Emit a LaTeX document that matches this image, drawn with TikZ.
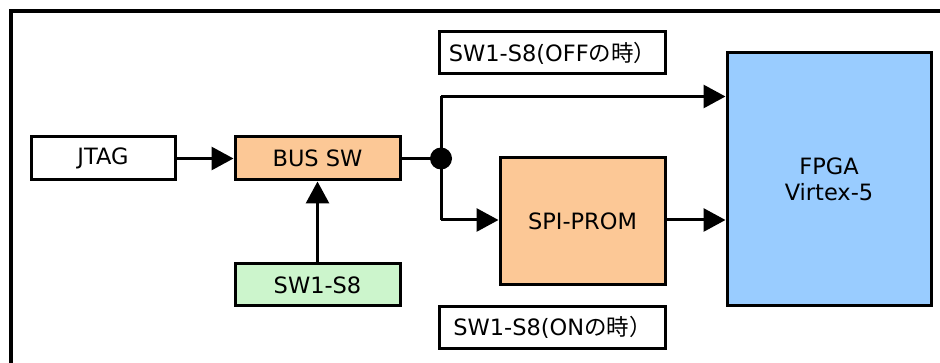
\documentclass[tikz,border=0pt]{standalone}
\usepackage{fontspec}
\setmainfont{DejaVu Sans}
\newfontfamily\cjk{Noto Sans CJK JP}
\usetikzlibrary{arrows.meta}
\definecolor{orangefill}{HTML}{FCC896}
\definecolor{greenfill}{HTML}{CCF5CC}
\definecolor{bluefill}{HTML}{99CCFF}
\begin{document}
\begin{tikzpicture}[x=1pt,y=-1pt,
  box/.style={draw=black,line width=3pt,inner sep=0pt,font=\fontsize{22.5}{26}\selectfont},
  conn/.style={line width=3pt,-{Triangle[length=22pt,width=23pt]}},
  plain/.style={line width=3pt}]
\useasboundingbox (0,0) rectangle (940,363);
\fill[white] (0,0) rectangle (940,363);
\draw[line width=3.5pt] (11,370) -- (11,11) -- (950,11);
\node[box,fill=white,minimum width=144pt,minimum height=43pt] (jtag) at (103,158.5) {JTAG};
\node[box,fill=orangefill,minimum width=165pt,minimum height=43pt] (bus) at (317.5,158.5) {BUS SW};
\node[box,fill=greenfill,minimum width=165pt,minimum height=42pt] (sw) at (317.5,285) {SW1-S8};
\node[box,fill=orangefill,minimum width=165pt,minimum height=127pt] (spi) at (582.5,221.5) {SPI-PROM};
\node[box,fill=bluefill,minimum width=204pt,minimum height=253pt,align=center] (fpga) at (829,179.5) {FPGA\\[0pt]Virtex-5};
\node[box,fill=white,minimum width=226pt,minimum height=42pt] (off) at (552.5,53) {SW1-S8(OFF{\cjk の時）}};
\node[box,fill=white,minimum width=226pt,minimum height=42pt] (on) at (552.5,327.5) {SW1-S8(ON{\cjk の時）}};
\coordinate (j) at (441,158.5);
\coordinate (jt) at (441,96.5);
\coordinate (jb) at (441,220);
\draw[conn] (jtag) -- (bus);
\draw[conn] (sw) -- (bus);
\draw[plain] (bus) -- (j);
\draw[plain,line join=miter] (jb) -- (jt);
\draw[conn] (jt) -- (jt -| fpga.west);
\draw[conn] (jb) -- (jb -| spi.west);
\draw[conn] (spi.east |- jb) -- (jb -| fpga.west);
\fill (j) circle (11pt);
\end{tikzpicture}
\end{document}
